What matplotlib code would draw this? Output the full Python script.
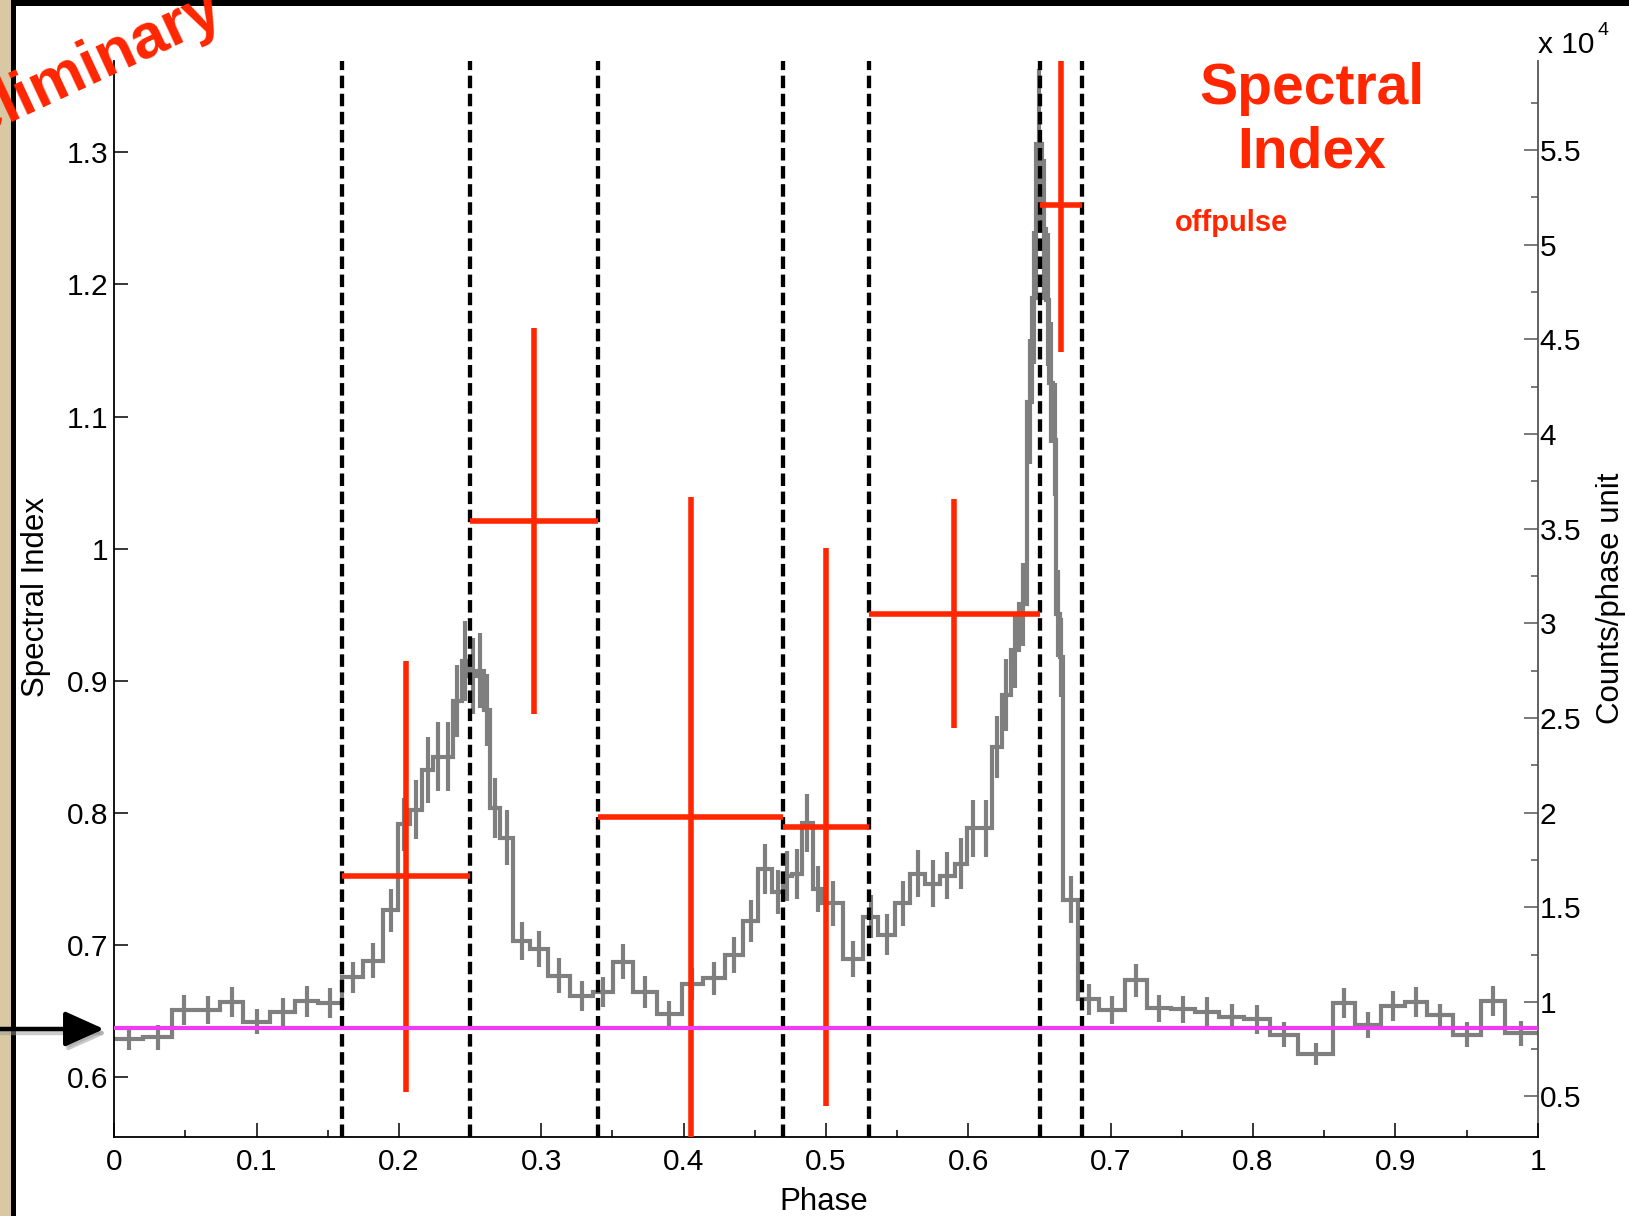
import numpy as np
import matplotlib
matplotlib.use("Agg")
import matplotlib.pyplot as plt
from matplotlib.patches import Rectangle, FancyArrowPatch
from matplotlib.transforms import IdentityTransform

plt.rcParams['font.family'] = ['Liberation Sans', 'DejaVu Sans']

# ---------------- data ----------------
# pulse profile (adaptive bins): bin edges in phase, counts/phase unit in units of 1e4
bin_edges = [
    0.0000, 0.0204, 0.0403, 0.0574, 0.0743, 0.0906, 0.1094, 0.1270, 0.1433, 0.1598,
    0.1750, 0.1890, 0.1995, 0.2077, 0.2160, 0.2241, 0.2311, 0.2382, 0.2440, 0.2490,
    0.2545, 0.2595, 0.2639, 0.2710, 0.2803, 0.2921, 0.3049, 0.3202, 0.3365, 0.3506,
    0.3646, 0.3811, 0.3986, 0.4138, 0.4290, 0.4419, 0.4525, 0.4619, 0.4700, 0.4759,
    0.4829, 0.4911, 0.4970, 0.5122, 0.5262, 0.5367, 0.5485, 0.5590, 0.5696, 0.5801,
    0.5906, 0.5988, 0.6082, 0.6164, 0.6234, 0.6300, 0.6358, 0.6412, 0.6450, 0.6472,
    0.6518, 0.6548, 0.6570, 0.6594, 0.6618, 0.6642, 0.6663, 0.6773, 0.6917, 0.7098,
    0.7254, 0.7422, 0.7590, 0.7759, 0.7940, 0.8122, 0.8316, 0.8562, 0.8718, 0.8899,
    0.9067, 0.9223, 0.9404, 0.9599, 0.9767, 1.0000]
counts = [
    0.802, 0.814, 0.958, 0.958, 0.998, 0.896, 0.946, 1.002, 0.993,
    1.130, 1.217, 1.484, 1.937, 2.016, 2.226, 2.296, 2.296, 2.590, 2.800,
    2.720, 2.750, 2.540, 2.025, 1.867, 1.323, 1.279, 1.139, 1.033, 1.051,
    1.212, 1.051, 0.937, 1.095, 1.125, 1.247, 1.428, 1.704, 1.580, 1.665,
    1.674, 1.946, 1.598, 1.521, 1.226, 1.449, 1.355, 1.521, 1.677, 1.625,
    1.667, 1.729, 1.916, 1.916, 2.346, 2.620, 2.860, 3.100, 4.170, 4.720,
    5.530, 5.080, 4.710, 4.270, 3.970, 3.050, 2.820, 1.540, 1.013,
    0.956, 1.114, 0.965, 0.960, 0.947, 0.921, 0.907, 0.825, 0.725, 0.995,
    0.877, 0.977, 1.000, 0.930, 0.825, 1.005, 0.833]
count_err = [
    0.057, 0.066, 0.079, 0.075, 0.079, 0.068, 0.072, 0.083, 0.079,
    0.083, 0.092, 0.114, 0.140, 0.158, 0.175, 0.180, 0.184, 0.190, 0.210,
    0.200, 0.200, 0.190, 0.158, 0.145, 0.101, 0.096, 0.092, 0.079, 0.079,
    0.092, 0.083, 0.066, 0.083, 0.088, 0.094, 0.110, 0.132, 0.118, 0.130,
    0.132, 0.153, 0.121, 0.118, 0.096, 0.114, 0.109, 0.119, 0.125, 0.125,
    0.125, 0.135, 0.150, 0.150, 0.166, 0.190, 0.200, 0.220, 0.330, 0.350,
    0.400, 0.370, 0.350, 0.320, 0.300, 0.230, 0.210, 0.123, 0.083,
    0.075, 0.088, 0.070, 0.070, 0.079, 0.066, 0.075, 0.066, 0.057, 0.079,
    0.070, 0.079, 0.079, 0.061, 0.066, 0.079, 0.064]

# phase intervals used for spectral fits (dashed lines)
phase_bounds = [0.16, 0.25, 0.34, 0.47, 0.53, 0.65, 0.68]
spec_index = [0.752, 1.021, 0.797, 0.7895, 0.9507, 1.260]
spec_err = [0.163, 0.146, 0.242, 0.211, 0.0866, 0.111]
offpulse_level = 0.637   # on spectral-index axis

x_ticks = [0, 0.1, 0.2, 0.3, 0.4, 0.5, 0.6, 0.7, 0.8, 0.9, 1.0]
x_ticklabels = ['0', '0.1', '0.2', '0.3', '0.4', '0.5', '0.6', '0.7', '0.8', '0.9', '1']
si_ticks = [0.6, 0.7, 0.8, 0.9, 1.0, 1.1, 1.2, 1.3]
si_ticklabels = ['0.6', '0.7', '0.8', '0.9', '1', '1.1', '1.2', '1.3']
cnt_ticks = [0.5, 1, 1.5, 2, 2.5, 3, 3.5, 4, 4.5, 5, 5.5]
cnt_ticklabels = ['0.5', '1', '1.5', '2', '2.5', '3', '3.5', '4', '4.5', '5', '5.5']

# ---------------- style ----------------
GRAY = '#7f7f7f'
RED = '#ff2600'
MAGENTA = '#f03cf0'
BEIGE = '#d8c8a4'

W, H = 1629, 1216
fig = plt.figure(figsize=(W / 100, H / 100), dpi=100)
fig.patch.set_facecolor('white')

L, R, T, B = 114.3, 1537.7, 61.0, 1137.0
rect = [L / W, 1 - B / H, (R - L) / W, (B - T) / H]
ax2 = fig.add_axes(rect)   # counts axis (right)
ax = fig.add_axes(rect)    # spectral index axis (left), on top
ax.patch.set_visible(False)

# ---- counts profile ----
edges = np.array(bin_edges)
cnt = np.array(counts)
centers = 0.5 * (edges[:-1] + edges[1:])
ax2.stairs(cnt, edges, baseline=None, color=GRAY, lw=3.0, joinstyle='miter')
ax2.errorbar(centers, cnt, yerr=count_err, fmt='none', ecolor=GRAY,
             elinewidth=3.0, capsize=0)
ax2.set_xlim(0, 1)
ax2.set_ylim(0.286, 5.97)
ax2.set_xticks([])
ax2.yaxis.tick_right()
ax2.set_yticks(cnt_ticks)
ax2.set_yticklabels(cnt_ticklabels)
ax2.set_yticks(np.arange(0.75, 5.9, 0.5), minor=True)
ax2.tick_params(axis='y', which='major', direction='in', length=10, width=1.1,
                color='#555555', labelcolor='black', labelsize=21.5, pad=1.5)
ax2.tick_params(axis='y', which='minor', direction='in', length=5, width=1.1,
                color='#555555')
for s in ['top', 'left', 'bottom']:
    ax2.spines[s].set_visible(False)
ax2.spines['right'].set_color('#555555')
ax2.spines['right'].set_linewidth(1.3)

# ---- spectral index ----
bnd = np.array(phase_bounds)
mid = 0.5 * (bnd[:-1] + bnd[1:])
halfw = 0.5 * (bnd[1:] - bnd[:-1])
for b in phase_bounds:
    ax.axvline(b, color='black', lw=3.1, ls=(0, (2.9, 1.3)), zorder=3)
ax.errorbar(mid, spec_index, xerr=halfw, yerr=spec_err, fmt='none',
            ecolor=RED, elinewidth=4.0, capsize=0, zorder=4)
ax.axhline(offpulse_level, color=MAGENTA, lw=3, zorder=5)

ax.set_xlim(0, 1)
ax.set_ylim(0.5548, 1.3691)
ax.set_xticks(x_ticks)
ax.set_xticklabels(x_ticklabels)
ax.set_xticks(np.arange(0.05, 1.0, 0.1), minor=True)
ax.set_yticks(si_ticks)
ax.set_yticklabels(si_ticklabels)
ax.tick_params(axis='both', which='major', direction='in', length=10, width=1.1,
               labelsize=21.5)
ax.tick_params(axis='x', which='minor', direction='in', length=5, width=1.1)
ax.tick_params(axis='y', pad=4)
ax.tick_params(axis='x', pad=8)
for s in ['top', 'right']:
    ax.spines[s].set_visible(False)
for s in ['left', 'bottom']:
    ax.spines[s].set_linewidth(1.3)

# ---- labels & annotations ----
def fpos(x, y):
    return x / W, 1 - y / H

fig.text(*fpos(36, 597), 'Spectral Index', rotation=90, ha='center', va='center',
         fontsize=22.5)
fig.text(*fpos(1611, 598), 'Counts/phase unit', rotation=90, ha='center',
         va='center', fontsize=22.5)
fig.text(*fpos(824, 1210), 'Phase', ha='center', va='baseline', fontsize=22.5)
fig.text(*fpos(1538, 53), 'x 10', ha='left', va='baseline', fontsize=21.5)
fig.text(*fpos(1597, 35), '4', ha='left', va='baseline', fontsize=14)

fig.text(*fpos(1312, 104), 'Spectral', ha='center', va='baseline', fontsize=41,
         fontweight='bold', color=RED)
fig.text(*fpos(1312, 168), 'Index', ha='center', va='baseline', fontsize=41,
         fontweight='bold', color=RED)
fig.text(*fpos(1231, 231), 'offpulse', ha='center', va='baseline', fontsize=21,
         fontweight='bold', color=RED)

# ---- slide frame ----
fig.add_artist(Rectangle((0, 0), 11 / W, 1, transform=fig.transFigure,
                         facecolor=BEIGE, edgecolor='none', zorder=10))
fig.add_artist(Rectangle((11 / W, 0), 4.7 / W, 1, transform=fig.transFigure,
                         facecolor='black', edgecolor='none', zorder=11))
fig.add_artist(Rectangle((11 / W, 1 - 6 / H), 1 - 11 / W, 6 / H,
                         transform=fig.transFigure, facecolor='black',
                         edgecolor='none', zorder=11))

# arrow marking the off-pulse level
ya = H - 1029
shadow = FancyArrowPatch((0, ya - 4), (107, ya - 4),
                         arrowstyle='-|>,head_length=0.8,head_width=0.36',
                         mutation_scale=30, lw=3.2, color='#9a9a9a', alpha=0.5,
                         shrinkA=0, shrinkB=0, transform=IdentityTransform(),
                         zorder=12)
fig.add_artist(shadow)
arrow = FancyArrowPatch((0, ya), (104, ya),
                        arrowstyle='-|>,head_length=0.8,head_width=0.36',
                        mutation_scale=30, lw=3.2, color='black',
                        shrinkA=0, shrinkB=0, transform=IdentityTransform(),
                        zorder=13)
fig.add_artist(arrow)

fig.text(*fpos(226, 20), 'Preliminary', rotation=25, rotation_mode='anchor',
         ha='right', va='baseline', fontsize=45, fontweight='bold', color=RED,
         zorder=20)

fig.savefig('out.png', dpi=100)
